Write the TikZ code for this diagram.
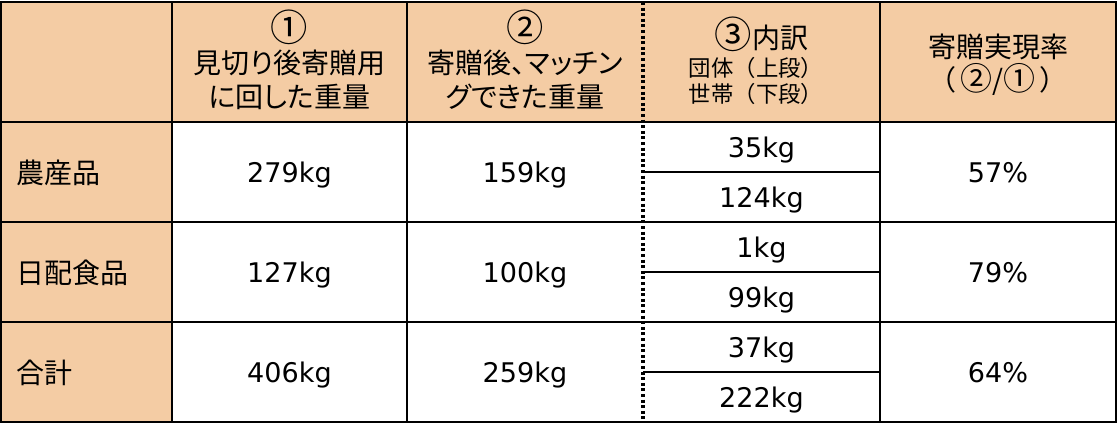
\documentclass[tikz,border=0pt]{standalone}
\usepackage{fontspec}
\setmainfont{DejaVu Sans}
\newfontfamily\jp[RawFeature=+palt]{Noto Sans CJK JP}
\newfontfamily\jpw{Noto Sans CJK JP}
\definecolor{hdr}{RGB}{244,204,164}
\newcommand\circnum[2][28]{{\fontsize{#1}{24}\selectfont\jpw #2}}
\begin{document}
\begin{tikzpicture}[x=0.75pt, y=-0.75pt,
  txt/.style={anchor=base, inner sep=0pt, font=\fontsize{20.3}{24}\selectfont},
  jtxt/.style={txt, font=\fontsize{21}{24}\selectfont\jp},
  small/.style={txt, font=\fontsize{16.8}{18}\selectfont\jpw}]
\fill[white] (0,0) rectangle (1118,432);
\useasboundingbox (0,0) rectangle (1118,432);
\fill[hdr] (1,2) rectangle (1116,122);
\fill[hdr] (1,122) rectangle (172,422);
% grid
\foreach \yy in {122,222,322} \draw[line width=1.6pt] (1,\yy) -- (1116,\yy);
\foreach \yy in {172,272,372} \draw[line width=1.5pt] (643,\yy) -- (880,\yy);
\foreach \xx in {172,407,880} \draw[line width=1.5pt] (\xx,2) -- (\xx,422);
\draw[line width=2.3pt, dash pattern=on 2.3pt off 1.9pt] (643,2) -- (643,422);
\draw[line width=2pt] (1,2) rectangle (1116,422);
% header
\node[jtxt] (h1a) at (289.5,41.5) {\circnum{①}};
\node[jtxt] (h1b) at (289.5,73) {見切り後寄贈用};
\node[jtxt] (h1c) at (289.5,107) {に回した重量};
\node[jtxt] (h2a) at (525,41.5) {\circnum{②}};
\node[jtxt] (h2b) at (525,73) {寄贈後、マッチン};
\node[jtxt] (h2c) at (525,107) {グできた重量};
\node[jtxt] (h3a) at (761.5,48) {\circnum{③}内訳};
\node[small] (h3b) at (756,76) {団体（上段）};
\node[small] (h3c) at (756,102) {世帯（下段）};
\node[jtxt] (h4a) at (998,57) {寄贈実現率};
\node[jtxt] (h4b) at (998,90) {（\kern4pt\circnum[24]{②}/\circnum[24]{①}\kern4pt）};
% rows
\node[jtxt, anchor=base west] (r1) at (16,183) {農産品};
\node[jtxt, anchor=base west] (r2) at (16,283) {日配食品};
\node[jtxt, anchor=base west] (r3) at (16,383) {合計};
\foreach \yy/\va/\vb/\vc/\vd/\vp in {172/279/159/35/124/57, 272/127/100/1/99/79, 372/406/259/37/222/64}{
  \node[txt] (a\yy) at (289.5,\yy+10.5) {\va kg};
  \node[txt] (b\yy) at (525,\yy+10.5) {\vb kg};
  \node[txt] (c\yy) at (761.5,\yy-14.5) {\vc kg};
  \node[txt] (d\yy) at (761.5,\yy+35.5) {\vd kg};
  \node[txt] (p\yy) at (998,\yy+10.5) {\vp\%};
}
\end{tikzpicture}
\end{document}
